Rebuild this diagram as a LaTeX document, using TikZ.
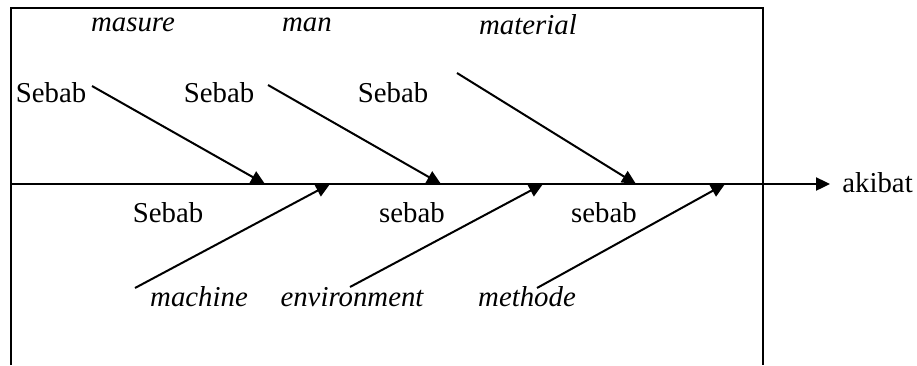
\documentclass[tikz,border=0pt]{standalone}
\usepackage{fontspec}
\setmainfont{Liberation Serif}
\usetikzlibrary{arrows.meta, positioning}

\begin{document}
\begin{tikzpicture}[
    x=0.5pt, y=-0.5pt,
    label_txt/.style={font=\fontsize{14.4}{17}\selectfont, inner sep=0pt},
    cat_txt/.style={font=\fontsize{14.4}{17}\selectfont\itshape, inner sep=0pt},
    frame/.style={line width=1pt, draw=black},
    bone/.style={-{Triangle[length=7pt, width=6.5pt]}, line width=1pt},
    spine/.style={-{Triangle[length=7pt, width=6.5pt]}, line width=1.2pt}
]
    \useasboundingbox (0,0) rectangle (917,365);

    % Bingkai (bagian bawah terpotong)
    \draw[frame] (11,365) -- (11,8) -- (763,8) -- (763,365);

    % Tulang utama menuju akibat
    \node[label_txt, anchor=west] (akibat) at (842,183) {akibat};
    \coordinate (spine_start) at (11,184);
    \draw[spine] (spine_start) -- (spine_start -| akibat.west) [shorten >=6pt];

    % Kategori atas
    \node[cat_txt] (masure) at (133,25) {masure};
    \node[cat_txt] (man) at (307,25) {man};
    \node[cat_txt] (material) at (528,25) {material};

    \node[label_txt] (sebab_a1) at (51,93) {Sebab};
    \node[label_txt] (sebab_a2) at (219,93) {Sebab};
    \node[label_txt] (sebab_a3) at (393,93) {Sebab};

    % Tulang atas (miring ke kanan bawah)
    \coordinate (masure_tail) at (92,86);
    \coordinate (masure_head) at (265,184);
    \coordinate (man_tail) at (268,85);
    \coordinate (man_head) at (441,184);
    \coordinate (material_tail) at (457,73);
    \coordinate (material_head) at (636,184);

    \draw[bone] (masure_tail) -- (masure_head);
    \draw[bone] (man_tail) -- (man_head);
    \draw[bone] (material_tail) -- (material_head);

    % Kategori bawah
    \node[label_txt] (sebab_b1) at (168,213) {Sebab};
    \node[label_txt] (sebab_b2) at (412,213) {sebab};
    \node[label_txt] (sebab_b3) at (604,213) {sebab};

    \node[cat_txt] (machine) at (199,297) {machine};
    \node[cat_txt] (environment) at (352,297) {environment};
    \node[cat_txt] (methode) at (527,297) {methode};

    % Tulang bawah (miring ke kanan atas)
    \coordinate (machine_tail) at (135,288);
    \coordinate (machine_head) at (330,184);
    \coordinate (environment_tail) at (350,287);
    \coordinate (environment_head) at (543,184);
    \coordinate (methode_tail) at (537,288);
    \coordinate (methode_head) at (725,184);

    \draw[bone] (machine_tail) -- (machine_head);
    \draw[bone] (environment_tail) -- (environment_head);
    \draw[bone] (methode_tail) -- (methode_head);
\end{tikzpicture}
\end{document}
